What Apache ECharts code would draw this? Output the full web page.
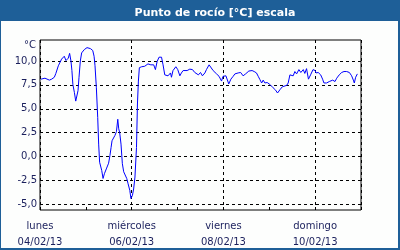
<!DOCTYPE html>
<html>
<head>
<meta charset="utf-8">
<script src="https://cdn.jsdelivr.net/npm/echarts@6/dist/echarts.min.js"></script>
<style>html,body{margin:0;padding:0;background:#fff}#c{width:400px;height:250px}</style>
</head>
<body>
<div id="c"></div>
<script>
// hours since 04/02/13 00:00
var hours = [0.5,1.4,2.6,3.6,4.9,6.1,7.5,8.3,9.6,11.3,12.7,13.6,14.8,15.5,16.2,16.7,17.2,18.0,18.7,19.3,19.9,20.4,21.1,21.8,23.2,24.6,26.4,27.6,28.3,28.8,29.5,30.2,30.7,31.2,32.3,33.0,33.7,34.7,35.9,36.6,37.2,37.7,38.6,39.2,40.0,40.7,41.2,41.7,42.4,43.1,43.8,44.7,45.4,46.1,47.0,47.6,48.4,49.0,49.7,50.5,51.0,51.5,52.0,53.2,54.8,56.5,58.0,59.5,60.4,61.3,62.3,63.6,64.4,65.3,66.2,67.0,68.3,68.8,69.6,71.1,72.1,73.2,74.0,74.9,75.9,77.0,78.4,79.8,81.0,81.9,82.9,84.0,85.0,86.3,87.1,88.5,89.2,90.6,92.4,93.7,95.0,95.8,97.3,98.8,99.9,101.1,102.0,102.9,103.7,105.0,106.3,107.6,109.3,111.0,112.1,113.3,114.2,115.1,116.0,116.8,117.7,118.9,120.3,122.0,123.3,124.3,125.6,126.8,127.8,129.1,129.9,130.8,131.7,132.5,133.4,134.3,135.5,136.5,137.8,138.6,139.5,140.5,141.6,142.9,144.0,144.5,145.6,146.9,147.9,148.6,150.0,151.4,152.1,153.2,154.4,155.3,156.6,157.9,159.1,160.5,161.9,163.1,164.0,164.5,165.2,166.1];
var dewPoint = [8.1,8.3,8.2,8.25,8.0,8.1,8.3,8.7,9.5,10.2,10.5,10.05,10.3,10.8,10.0,9.0,7.55,6.7,5.8,6.0,6.9,8.25,10.0,10.85,11.2,11.4,11.3,11.1,10.5,9.5,7.2,4.1,1.3,-0.6,-1.45,-2.3,-1.8,-1.3,-0.7,0.1,0.95,1.65,1.7,2.2,2.6,3.9,2.9,2.5,1.3,-0.75,-1.6,-1.8,-2.3,-2.85,-3.55,-4.4,-4.05,-3.4,-2.15,0.95,5.5,7.9,9.3,9.4,9.45,9.7,9.6,9.6,9.1,9.95,10.4,10.4,9.6,8.55,8.75,8.45,8.75,8.3,9.0,9.4,9.1,8.45,8.75,9.0,8.8,9.0,9.15,9.1,8.8,8.9,8.55,8.8,8.45,8.75,9.1,9.6,9.5,9.0,8.65,8.4,7.9,8.4,8.45,7.6,8.1,8.4,8.65,8.45,8.75,8.8,8.45,8.65,8.95,9.0,8.9,8.75,8.4,8.05,7.7,8.0,7.7,7.75,7.55,7.2,6.95,6.65,7.0,7.3,7.2,7.45,7.7,8.55,8.65,8.45,8.9,8.65,9.1,8.8,9.1,8.7,9.2,8.1,8.55,9.1,9.0,8.75,8.8,8.55,8.1,7.7,7.7,7.85,7.75,8.0,7.85,8.2,8.55,8.8,8.9,8.9,8.8,8.45,8.0,7.7,8.3,8.65];
var yTicks = [-5, -2.5, 0, 2.5, 5, 7.5, 10];
var dayLabels = {0: 'lunes\n04/02/13', 48: 'miércoles\n06/02/13', 96: 'viernes\n08/02/13', 144: 'domingo\n10/02/13'};
var titleText = 'Punto de rocío [°C] escala';
var unitText = '°C';

var data = hours.map(function (h, i) { return [h, dewPoint[i]]; });
var txt = '#1a1f5c';
var font = 'DejaVu Sans';
var chart = echarts.init(document.getElementById('c'), null, {renderer: 'canvas'});
chart.setOption({
  backgroundColor: '#1e5f98',
  animation: false,
  textStyle: {fontFamily: font},
  graphic: [{type: 'rect', silent: true, z: -10, shape: {x: 1, y: 21, width: 397, height: 227}, style: {fill: '#fdfefd'}}],
  title: {text: titleText, left: 210, textAlign: 'center', top: 3,
    textStyle: {color: '#fff', fontSize: 11, fontWeight: 'bold', fontFamily: font}},
  grid: {left: 40, right: 39, top: 40, bottom: 39, show: true, borderColor: '#000', borderWidth: 1, backgroundColor: 'transparent'},
  xAxis: [{
    type: 'value', min: 0, max: 168, interval: 24, position: 'bottom',
    axisLine: {show: false, onZero: false},
    axisTick: {show: true, inside: true, length: 3, lineStyle: {color: '#000'}},
    splitLine: {show: false},
    axisLabel: {show: true, margin: 8, color: txt, fontSize: 10, lineHeight: 16, fontFamily: font,
      formatter: function (v) { return dayLabels[v] || ''; }}
  }, {
    type: 'value', min: 0, max: 168, interval: 48, position: 'bottom',
    axisLine: {show: false, onZero: false}, axisTick: {show: false}, axisLabel: {show: false},
    splitLine: {show: true, lineStyle: {color: '#000', type: [3, 3], width: 1}}
  }],
  yAxis: {
    type: 'value', min: -5.6, max: 12.2,
    name: unitText, nameLocation: 'end', nameGap: -5,
    nameTextStyle: {color: txt, fontSize: 10, align: 'right', verticalAlign: 'middle', padding: [0, 4, 0, 0], fontFamily: font},
    axisLine: {show: false, onZero: false},
    axisTick: {show: false, customValues: yTicks},
    axisLabel: {customValues: yTicks, color: txt, fontSize: 10, margin: 3, fontFamily: font,
      formatter: function (v) { return v.toFixed(1).replace('.', ','); }},
    splitLine: {show: true, lineStyle: {color: '#000', type: [3, 3], width: 1}}
  },
  series: [{
    type: 'line', data: data, xAxisIndex: 0, showSymbol: false, symbol: 'none',
    lineStyle: {color: '#0000ff', width: 1}
  }]
});
</script>
</body>
</html>
